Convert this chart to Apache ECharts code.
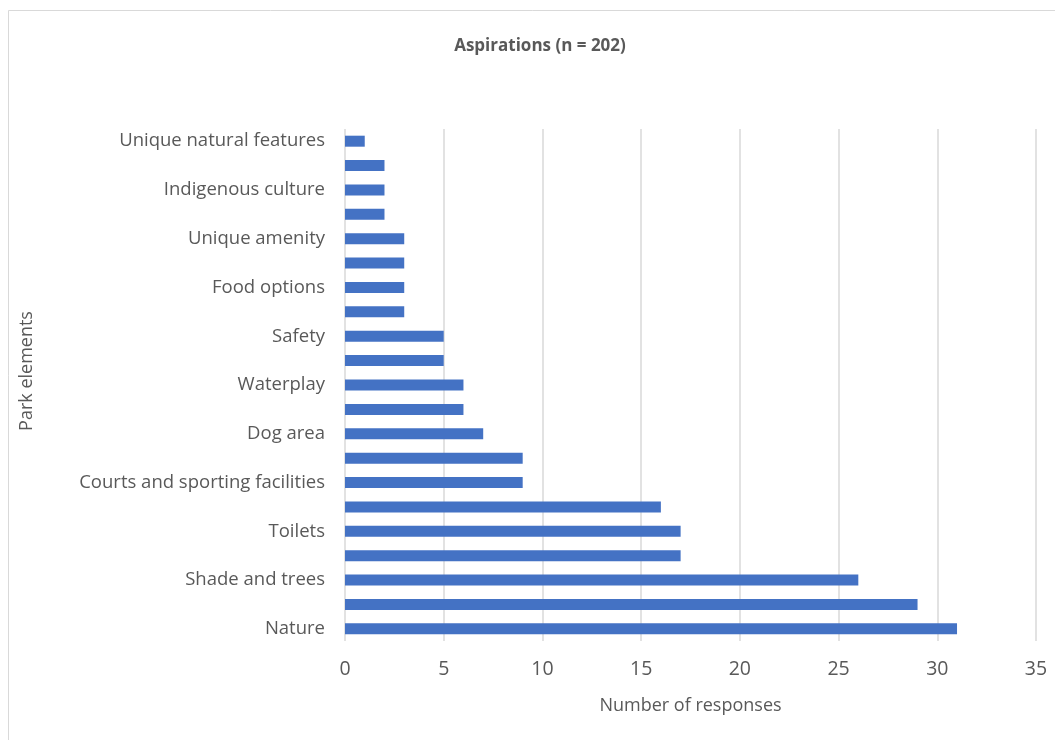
<!DOCTYPE html>
<html>
<head>
<meta charset="utf-8">
<script src="https://cdn.jsdelivr.net/npm/echarts@6/dist/echarts.min.js"></script>
<style>
  html, body { margin: 0; padding: 0; background: #fff; }
  #chart { width: 1055px; height: 740px; }
</style>
</head>
<body>
<div id="chart"></div>
<script>
// Park elements, bottom to top; only every other label is printed on the axis
const categories = [
  'Nature', '', 'Shade and trees', '', 'Toilets', '',
  'Courts and sporting facilities', '', 'Dog area', '', 'Waterplay', '',
  'Safety', '', 'Food options', '', 'Unique amenity', '',
  'Indigenous culture', '', 'Unique natural features'
];
const responses = [31, 29, 26, 17, 17, 16, 9, 9, 7, 6, 6, 5, 5, 3, 3, 3, 3, 2, 2, 2, 1];
const xTicks = [0, 5, 10, 15, 20, 25, 30, 35];

const chart = echarts.init(document.getElementById('chart'));
const textColor = '#595959';
const font = '"Open Sans", "Noto Sans", sans-serif';

chart.setOption({
  animation: false,
  backgroundColor: '#fff',
  title: {
    text: 'Aspirations (n = 202)',
    left: 535, top: 33, textAlign: 'center',
    textStyle: { fontFamily: font, fontSize: 17, fontWeight: 'bold', color: textColor }
  },
  graphic: [{
    type: 'rect',
    shape: { x: 8.5, y: 10.5, width: 1100, height: 800 },
    style: { fill: 'none', stroke: '#d9d9d9', lineWidth: 1 },
    silent: true
  }, {
    // vertical axis title, sitting a little above the plot's mid-height
    type: 'text',
    x: 27, y: 371,
    rotation: Math.PI / 2,
    style: {
      text: 'Park elements',
      fontFamily: font, fontSize: 18, fill: textColor,
      align: 'center', verticalAlign: 'middle'
    },
    silent: true
  }],
  grid: { left: 345, right: 19, top: 129, bottom: 99 },
  xAxis: {
    type: 'value',
    min: xTicks[0], max: xTicks[xTicks.length - 1], interval: 5,
    name: 'Number of responses',
    nameLocation: 'middle', nameGap: 56,
    nameTextStyle: { fontFamily: font, fontSize: 18, color: textColor },
    axisLine: { show: false },
    axisTick: { show: false },
    axisLabel: { fontFamily: font, fontSize: 19.5, color: textColor, margin: 18 },
    splitLine: { lineStyle: { color: '#d9d9d9', width: 1.5 } }
  },
  yAxis: {
    type: 'category',
    data: categories,
    axisLine: { show: false },
    axisTick: { show: false },
    axisLabel: { interval: 0, fontFamily: font, fontSize: 18.5, color: textColor, margin: 20 }
  },
  series: [{
    type: 'bar',
    data: responses,
    barWidth: 11,
    itemStyle: { color: '#4472C4' }
  }]
});
</script>
</body>
</html>
